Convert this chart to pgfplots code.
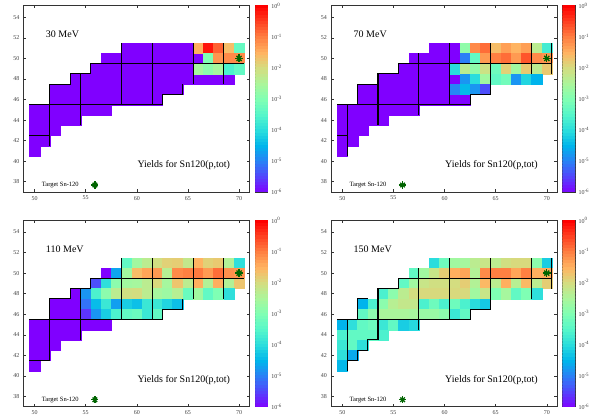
\documentclass[border=0pt]{standalone}
\usepackage{pgfplots}
\pgfplotsset{compat=1.18}
\usepackage{pgfplotstable}
\usepackage{fontspec}
\setmainfont{Liberation Serif}

\definecolor{stargreen}{RGB}{0,100,0}

\pgfplotstableread{
N Z v
59 51 -6
60 51 -6
61 51 -6
62 51 -6
63 51 -6
64 51 -6
65 51 -6
66 51 -6
67 51 -6
68 51 -6
69 51 -6
70 51 -6
57 50 -6
58 50 -6
59 50 -6
60 50 -6
61 50 -6
62 50 -6
63 50 -6
64 50 -6
65 50 -6
66 50 -6
67 50 -6
68 50 -6
69 50 -6
70 50 -6
56 49 -6
57 49 -6
58 49 -6
59 49 -6
60 49 -6
61 49 -6
62 49 -6
63 49 -6
64 49 -6
65 49 -6
66 49 -6
67 49 -6
68 49 -6
69 49 -6
70 49 -6
54 48 -6
55 48 -6
56 48 -6
57 48 -6
58 48 -6
59 48 -6
60 48 -6
61 48 -6
62 48 -6
63 48 -6
64 48 -6
65 48 -6
66 48 -6
67 48 -6
68 48 -6
69 48 -6
52 47 -6
53 47 -6
54 47 -6
55 47 -6
56 47 -6
57 47 -6
58 47 -6
59 47 -6
60 47 -6
61 47 -6
62 47 -6
63 47 -6
64 47 -6
52 46 -6
53 46 -6
54 46 -6
55 46 -6
56 46 -6
57 46 -6
58 46 -6
59 46 -6
60 46 -6
61 46 -6
62 46 -6
50 45 -6
51 45 -6
52 45 -6
53 45 -6
54 45 -6
55 45 -6
56 45 -6
57 45 -6
50 44 -6
51 44 -6
52 44 -6
53 44 -6
54 44 -6
50 43 -6
51 43 -6
52 43 -6
50 42 -6
51 42 -6
50 41 -6
}\regiontab

% 30 MeV (cells above the floor)
\pgfplotstableread{
N Z v
66 51 -1.45
67 51 -0.15
68 51 -0.75
69 51 -1.6
70 51 -3.3
67 50 -3.0
68 50 -1.2
69 50 -1.1
70 50 -1.1
66 49 -2.55
67 49 -2.85
68 49 -2.55
69 49 -3.6
70 49 -3.35
}\tabA

% 70 MeV
\pgfplotstableread{
N Z v
62 51 -2.8
63 51 -1.1
64 51 -0.85
65 51 -1.6
66 51 -1.3
67 51 -1.5
68 51 -1.3
69 51 -2.3
70 51 -3.7
62 50 -5.0
63 50 -3.35
64 50 -1.25
65 50 -1.0
66 50 -0.85
67 50 -1.25
68 50 -0.65
69 50 -1.1
70 50 -1.2
61 49 -4.0
62 49 -2.3
63 49 -2.8
64 49 -2.1
65 49 -3.2
66 49 -1.85
67 49 -2.6
68 49 -1.75
69 49 -2.3
70 49 -1.75
62 48 -4.8
63 48 -4.0
64 48 -2.6
65 48 -3.35
66 48 -3.15
67 48 -4.8
68 48 -4.1
69 48 -4.5
61 47 -4.95
62 47 -4.45
63 47 -4.8
64 47 -5.4
}\tabB

% 110 MeV
\pgfplotstableread{
N Z v
59 51 -3.35
60 51 -2.6
61 51 -2.3
62 51 -2.05
63 51 -1.85
64 51 -1.8
65 51 -2.2
66 51 -1.5
67 51 -1.85
68 51 -1.75
69 51 -2.4
70 51 -3.95
58 50 -4.65
59 50 -2.6
60 50 -1.6
61 50 -1.35
62 50 -1.25
63 50 -2.35
64 50 -1.1
65 50 -1.0
66 50 -0.95
67 50 -1.25
68 50 -0.85
69 50 -1.15
70 50 -1.2
56 49 -5.4
57 49 -3.95
58 49 -2.85
59 49 -2.6
60 49 -2.55
61 49 -2.3
62 49 -1.95
63 49 -2.55
64 49 -1.7
65 49 -2.3
66 49 -1.45
67 49 -2.4
68 49 -1.45
69 49 -2.4
70 49 -1.7
55 48 -4.8
56 48 -3.6
57 48 -2.85
58 48 -2.3
59 48 -2.05
60 48 -2.0
61 48 -2.3
62 48 -2.55
63 48 -2.65
64 48 -2.35
65 48 -3.25
66 48 -2.6
67 48 -3.35
68 48 -3.0
69 48 -3.95
55 47 -5.1
56 47 -4.4
57 47 -3.8
58 47 -4.7
59 47 -4.2
60 47 -4.35
61 47 -3.8
62 47 -3.8
63 47 -4.1
64 47 -4.35
55 46 -5.6
56 46 -4.8
57 46 -4.2
58 46 -3.6
59 46 -3.35
60 46 -3.25
61 46 -3.8
62 46 -3.35
}\tabC

% 150 MeV (all cells)
\pgfplotstableread{
N Z v
59 51 -4.0
60 51 -3.2
61 51 -2.6
62 51 -2.55
63 51 -2.3
64 51 -2.15
65 51 -2.3
66 51 -2.05
67 51 -1.95
68 51 -1.95
69 51 -2.85
70 51 -4.2
57 50 -3.35
58 50 -2.6
59 50 -2.15
60 50 -1.8
61 50 -1.45
62 50 -1.35
63 50 -2.4
64 50 -1.1
65 50 -1.0
66 50 -1.0
67 50 -1.35
68 50 -1.0
69 50 -1.45
70 50 -1.4
56 49 -3.35
57 49 -2.6
58 49 -2.15
59 49 -2.05
60 49 -2.05
61 49 -2.0
62 49 -1.8
63 49 -2.4
64 49 -1.55
65 49 -2.3
66 49 -1.45
67 49 -2.35
68 49 -1.55
69 49 -2.3
70 49 -1.8
54 48 -3.6
55 48 -2.85
56 48 -2.3
57 48 -2.0
58 48 -1.95
59 48 -1.95
60 48 -1.95
61 48 -1.95
62 48 -1.95
63 48 -2.6
64 48 -2.15
65 48 -3.0
66 48 -2.55
67 48 -3.35
68 48 -3.0
69 48 -3.95
52 47 -4.5
53 47 -3.6
54 47 -2.85
55 47 -2.35
56 47 -2.2
57 47 -2.2
58 47 -3.6
59 47 -3.2
60 47 -3.6
61 47 -3.2
62 47 -3.6
63 47 -4.0
64 47 -4.25
52 46 -3.35
53 46 -2.85
54 46 -2.5
55 46 -2.5
56 46 -2.5
57 46 -2.55
58 46 -2.7
59 46 -2.7
60 46 -2.85
61 46 -3.8
62 46 -3.35
50 45 -4.5
51 45 -3.95
52 45 -3.35
53 45 -3.2
54 45 -3.8
55 45 -3.35
56 45 -4.2
57 45 -4.05
50 44 -3.6
51 44 -3.35
52 44 -3.35
53 44 -3.35
54 44 -3.6
50 43 -3.8
51 43 -3.35
52 43 -3.95
50 42 -3.95
51 42 -4.6
50 41 -4.45
}\tabD

\pgfplotstableread{
N Z
70 50
}\targettab
\pgfplotstableread{
N Z
55.9 37.68
}\keytab

% colour scale strips (log10 yield)
\pgfplotstableread[row sep=\\]{
c\\ -6.0\\ -5.9\\ -5.8\\ -5.7\\ -5.6\\ -5.5\\ -5.4\\ -5.3\\ -5.2\\ -5.1\\
-5.0\\ -4.9\\ -4.8\\ -4.7\\ -4.6\\ -4.5\\ -4.4\\ -4.3\\ -4.2\\ -4.1\\
-4.0\\ -3.9\\ -3.8\\ -3.7\\ -3.6\\ -3.5\\ -3.4\\ -3.3\\ -3.2\\ -3.1\\
-3.0\\ -2.9\\ -2.8\\ -2.7\\ -2.6\\ -2.5\\ -2.4\\ -2.3\\ -2.2\\ -2.1\\
-2.0\\ -1.9\\ -1.8\\ -1.7\\ -1.6\\ -1.5\\ -1.4\\ -1.3\\ -1.2\\ -1.1\\
-1.0\\ -0.9\\ -0.8\\ -0.7\\ -0.6\\ -0.5\\ -0.4\\ -0.3\\ -0.2\\ -0.1\\ 0.0\\
}\cbtab

\pgfplotsset{
  colormap={gnu}{rgb=(0.5,0,1) rgb=(0.333,0.259,0.991) rgb=(0.167,0.5,0.966)
    rgb=(0,0.707,0.924) rgb=(0.167,0.866,0.866) rgb=(0.333,0.966,0.793)
    rgb=(0.5,1,0.707) rgb=(0.667,0.966,0.609) rgb=(0.833,0.866,0.5)
    rgb=(1,0.707,0.383) rgb=(1,0.5,0.259) rgb=(1,0.259,0.131) rgb=(1,0,0)},
  nuclaxis/.style={
    scale only axis,
    width=226pt, height=186.3pt,
    anchor=south west,
    xmin=48.9, xmax=71.0, ymin=37, ymax=55.13,
    xtick={50,55,60,65,70}, ytick={38,40,...,54},
    tick align=inside, major tick length=2.5pt,
    tick label style={font=\fontsize{6}{7}\selectfont, text=black!75},
    /pgf/number format/assume math mode=true,
    axis line style={line width=0.9pt, black!80},
    every tick/.style={black!80, line width=0.5pt},
    xticklabel style={yshift=-0.5pt},
    yticklabel style={xshift=-0.5pt},
    colormap name=gnu,
    point meta min=-6, point meta max=0,
  },
  overaxis/.style={
    scale only axis,
    width=226pt, height=186.3pt,
    anchor=south west,
    xmin=48.9, xmax=71.0, ymin=37, ymax=55.13,
    hide axis, clip=false,
  },
  cbaxis/.style={
    scale only axis,
    width=12.5pt, height=186.3pt,
    anchor=south west,
    xmin=0, xmax=1, ymin=-6, ymax=0,
    xtick=\empty,
    ytick={-6,-5,-4,-3,-2,-1,0},
    yticklabels={10\textsuperscript{-6},10\textsuperscript{-5},10\textsuperscript{-4},10\textsuperscript{-3},10\textsuperscript{-2},10\textsuperscript{-1},10\textsuperscript{0}},
    yticklabel pos=right,
    tick align=inside,
    major tick length=2pt,
    every tick/.style={black!80, line width=0.5pt},
    tick label style={font=\fontsize{6}{7}\selectfont, text=black!75},
    axis line style={line width=0.8pt, black!80},
    clip marker paths=true,
    colormap name=gnu,
    point meta min=-6, point meta max=0,
  },
  nuclcells/.style={scatter, only marks, mark=square*, mark size=5.15pt,
    point meta=explicit,
    scatter/use mapped color={draw=mapped color, fill=mapped color},
    mark options={line width=0.2pt}},
  cbstrips/.style={scatter, only marks, mark=square*, mark size=6.6pt,
    point meta=explicit,
    scatter/use mapped color={draw=mapped color, fill=mapped color},
    mark options={yscale=0.26, line width=0.1pt}},
  nuclline/.style={black, line width=1.1pt, no marks},
  nuclstar/.style={only marks, stargreen, line width=1.3pt, mark size=4pt},
}

\newcommand{\panel}[1]{%
  \addplot[nuclstar, mark=+] table[x=N,y=Z] {\targettab};
  \addplot[nuclstar, mark=x, mark size=3.6pt] table[x=N,y=Z] {\targettab};
  \addplot[nuclstar, mark=+, mark size=3.6pt] table[x=N,y=Z] {\keytab};
  \addplot[nuclstar, mark=x, mark size=3.2pt] table[x=N,y=Z] {\keytab};
  \node[anchor=west, font=\fontsize{10}{12}\selectfont, inner sep=0pt] at (axis cs:51.1,52.35) {#1};
  \node[anchor=west, font=\fontsize{10}{12}\selectfont, inner sep=0pt] at (axis cs:60.05,39.6) {Yields for Sn120(p,tot)};
  \node[anchor=west, font=\fontsize{6.5}{7}\selectfont, inner sep=0pt] at (axis cs:50.7,37.68) {Target Sn-120};
}
\newcommand{\cbar}[1]{%
  \begin{axis}[cbaxis, at={#1}]
  \addplot[cbstrips] table[x expr=0.5, y=c, meta=c] {\cbtab};
  \end{axis}
}

\begin{document}
\begin{tikzpicture}
\useasboundingbox (0,0) rectangle (598pt,416pt);

% ---------------- 30 MeV ----------------
\begin{axis}[nuclaxis, at={(23.3pt,224pt)}]
\addplot[nuclcells] table[x=N,y=Z,meta=v] {\regiontab};
\addplot[nuclcells] table[x=N,y=Z,meta=v] {\tabA};
\end{axis}
\begin{axis}[overaxis, at={(23.3pt,224pt)}]
\addplot[nuclline] coordinates {(49.5,42.5) (51.5,42.5)};
\addplot[nuclline] coordinates {(51.5,41.5) (51.5,47.5) (53.5,47.5) (53.5,48.5) (55.5,48.5) (55.5,49.5) (70.5,49.5)};
\addplot[nuclline] coordinates {(54.5,43.5) (54.5,48.5)};
\addplot[nuclline] coordinates {(49.5,45.5) (62.5,45.5) (62.5,46.5) (64.5,46.5) (64.5,47.5)};
\addplot[nuclline] coordinates {(58.5,45.5) (58.5,51.5)};
\addplot[nuclline] coordinates {(61.5,45.5) (61.5,51.5)};
\addplot[nuclline] coordinates {(65.5,47.5) (65.5,51.5)};
\addplot[nuclline] coordinates {(68.5,47.5) (68.5,51.5)};
\panel{30 MeV}
\end{axis}
\cbar{(255.3pt,224pt)}

% ---------------- 70 MeV ----------------
\begin{axis}[nuclaxis, at={(331pt,224pt)}]
\addplot[nuclcells] table[x=N,y=Z,meta=v] {\regiontab};
\addplot[nuclcells] table[x=N,y=Z,meta=v] {\tabB};
\end{axis}
\begin{axis}[overaxis, at={(331pt,224pt)}]
\addplot[nuclline] coordinates {(49.5,42.5) (50.5,42.5)};
\addplot[nuclline] coordinates {(50.5,40.5) (50.5,45.5)};
\addplot[nuclline] coordinates {(51.5,45.5) (51.5,47.5) (53.5,47.5) (53.5,48.5) (55.5,48.5) (55.5,49.5) (70.5,49.5)};
\addplot[nuclline] coordinates {(53.5,43.5) (53.5,48.5)};
\addplot[nuclline] coordinates {(49.5,45.5) (62.5,45.5) (62.5,46.5) (64.5,46.5)};
\addplot[nuclline] coordinates {(57.5,44.5) (57.5,50.5)};
\addplot[nuclline] coordinates {(60.5,45.5) (60.5,51.5)};
\addplot[nuclline] coordinates {(64.5,46.5) (64.5,51.5)};
\addplot[nuclline] coordinates {(68.5,48.5) (68.5,51.5)};
\addplot[nuclline] coordinates {(70.5,48.5) (70.5,51.5)};
\panel{70 MeV}
\end{axis}
\cbar{(562.5pt,224pt)}

% ---------------- 110 MeV ----------------
\begin{axis}[nuclaxis, at={(23.3pt,9.3pt)}]
\addplot[nuclcells] table[x=N,y=Z,meta=v] {\regiontab};
\addplot[nuclcells] table[x=N,y=Z,meta=v] {\tabC};
\end{axis}
\begin{axis}[overaxis, at={(23.3pt,9.3pt)}]
\addplot[nuclline] coordinates {(49.5,41.5) (51.5,41.5)};
\addplot[nuclline] coordinates {(51.5,41.5) (51.5,47.5) (53.5,47.5) (53.5,48.5) (55.5,48.5) (55.5,49.5) (70.5,49.5)};
\addplot[nuclline] coordinates {(54.5,43.5) (54.5,48.5)};
\addplot[nuclline] coordinates {(49.5,45.5) (62.5,45.5) (62.5,46.5) (64.5,46.5) (64.5,47.5)};
\addplot[nuclline] coordinates {(58.5,45.5) (58.5,51.5)};
\addplot[nuclline] coordinates {(61.5,45.5) (61.5,51.5)};
\addplot[nuclline] coordinates {(65.5,47.5) (65.5,51.5)};
\addplot[nuclline] coordinates {(68.5,47.5) (68.5,51.5)};
\panel{110 MeV}
\end{axis}
\cbar{(255.3pt,9.3pt)}

% ---------------- 150 MeV ----------------
\begin{axis}[nuclaxis, at={(331pt,9.3pt)}]
\addplot[nuclcells] table[x=N,y=Z,meta=v] {\tabD};
\end{axis}
\begin{axis}[overaxis, at={(331pt,9.3pt)}]
\addplot[nuclline] coordinates {(50.5,40.5) (50.5,45.5)};
\addplot[nuclline] coordinates {(50.5,41.5) (51.5,41.5) (51.5,42.5) (52.5,42.5) (52.5,43.5) (53.5,43.5)};
\addplot[nuclline] coordinates {(51.5,45.5) (51.5,47.5) (52.5,47.5)};
\addplot[nuclline] coordinates {(53.5,43.5) (53.5,48.5) (55.5,48.5) (55.5,49.5) (70.5,49.5)};
\addplot[nuclline] coordinates {(49.5,45.5) (62.5,45.5) (62.5,46.5) (64.5,46.5)};
\addplot[nuclline] coordinates {(57.5,44.5) (57.5,50.5)};
\addplot[nuclline] coordinates {(60.5,45.5) (60.5,51.5)};
\addplot[nuclline] coordinates {(64.5,46.5) (64.5,51.5)};
\addplot[nuclline] coordinates {(68.5,47.5) (68.5,51.5)};
\addplot[nuclline] coordinates {(70.5,48.5) (70.5,51.5)};
\panel{150 MeV}
\end{axis}
\cbar{(562.5pt,9.3pt)}
\end{tikzpicture}
\end{document}
